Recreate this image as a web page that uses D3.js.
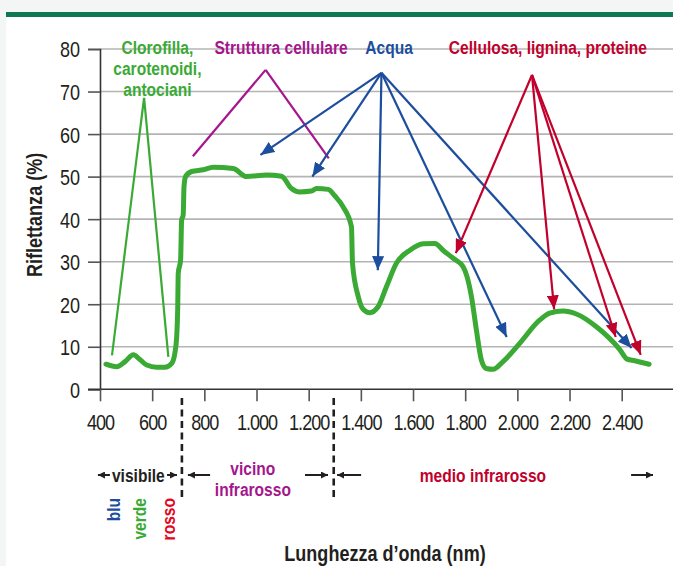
<!DOCTYPE html>
<html>
<head>
    <meta charset="utf-8">
    <title>Riflettanza della vegetazione</title>
    <script src="https://cdn.jsdelivr.net/npm/d3@7"></script>
    <style>
        body {
            margin: 0;
            background: #f4f6f6;
        }

        svg text {
            font-family: "Liberation Sans", Arial, sans-serif;
            fill: #231f20;
        }
    </style>
</head>
<body>
    <div id="chart"></div>
    <script>
        // spectral reflectance curve (nm, %)
        const wavelengths = [423, 464, 496, 528, 553, 579, 617, 649, 675, 687, 694, 698, 700, 709, 713, 719, 722, 728, 751, 796, 834, 911, 962, 1039, 1096, 1134, 1166, 1211, 1230, 1275, 1300, 1332, 1364, 1368, 1390, 1409, 1434, 1466, 1498, 1536, 1588, 1639, 1684, 1715, 1754, 1792, 1807, 1824, 1843, 1862, 1881, 1907, 1945, 2009, 2086, 2124, 2175, 2226, 2303, 2392, 2421, 2450, 2505];
        const reflectance = [5.9, 5.3, 6.5, 8.1, 7.0, 5.7, 5.2, 5.2, 6.1, 8.5, 12.4, 19.4, 27.3, 30.4, 39.8, 41.0, 47.6, 50.0, 51.2, 51.6, 52.2, 51.9, 50.0, 50.4, 50.1, 47.2, 46.4, 46.6, 47.2, 47.0, 45.5, 42.9, 38.2, 29.6, 21.8, 18.8, 18.0, 19.4, 24.1, 29.6, 32.7, 34.2, 34.3, 32.7, 30.8, 28.8, 26.5, 21.8, 13.9, 6.9, 4.9, 4.7, 6.5, 10.8, 16.3, 17.9, 18.4, 17.7, 14.7, 9.4, 7.1, 6.7, 5.9];

        const xTicks = [400, 600, 800, 1000, 1200, 1400, 1600, 1800, 2000, 2200, 2400];
        const yTicks = [0, 10, 20, 30, 40, 50, 60, 70, 80];

        // annotation labels and leader lines, points in (nm, %)
        const noteLines = [["Clorofilla,", "carotenoidi,", "antociani"], ["Struttura cellulare"], ["Acqua"], ["Cellulosa, lignina, proteine"]];
        const noteNm = [620, 1094, 1508, 2117];
        const noteColors = ["#3aaa35", "#a5168c", "#1c4e9d", "#c1002c"];
        const greenApex = [569, 68.5];
        const greenEnds = [[446, 8.0], [662, 7.6]];
        const purpleApex = [1035, 75.1];
        const purpleEnds = [[756, 54.8], [1277, 54.3]];
        const waterApex = [1479, 74.4];
        const waterTips = [[1015, 55.1], [1214, 50.0], [1465, 28.0], [1959, 12.3], [2438, 9.7]];
        const celluloseApex = [2056, 73.9];
        const celluloseTips = [[1764, 32.0], [2141, 18.8], [2377, 12.3], [2473, 8.1]];

        // spectral regions under the axis
        const boundaries = [714, 1296];
        const regionNames = [["visibile"], ["vicino", "infrarosso"], ["medio infrarosso"]];
        const regionColors = ["#231f20", "#a5168c", "#c1002c"];
        const regionCenters = [547, 986, 1868];
        const regionArrows = [[438, 392], [657, 695], [822, 737], [1186, 1274], [1401, 1309], [2436, 2520]];
        const bandNames = ["blu", "verde", "rosso"];
        const bandColors = ["#1c4e9d", "#3aaa35", "#e3061c"];
        const bandNm = [450, 550, 661];

        const width = 673;
        const height = 566;
        const narrow = 0.82;

        const svg = d3.select("#chart")
            .append("svg")
            .attr("width", width)
            .attr("height", height);

        svg.append("rect")
            .attr("x", 6).attr("y", 12)
            .attr("width", width - 6).attr("height", height - 12)
            .attr("fill", "#ffffff");
        svg.append("rect")
            .attr("x", 6).attr("y", 12)
            .attr("width", width - 6).attr("height", 5)
            .attr("fill", "#0f7756");

        const x = d3.scaleLinear().domain([400, 2400]).range([100, 621.7]);
        const y = d3.scaleLinear().domain([0, 80]).range([389.3, 49]);

        const it = d3.formatLocale({ decimal: ",", thousands: ".", grouping: [3], currency: ["€", ""] });
        const fmt = it.format(",d");

        // condensed looking text: squeeze along the text direction
        function label(px, py, str, size, color, bold, anchor, rot) {
            return svg.append("text")
                .attr("transform", `translate(${px},${py})` + (rot ? ` rotate(${rot})` : "") + ` scale(${narrow},1)`)
                .attr("text-anchor", anchor || "middle")
                .attr("font-size", size)
                .attr("font-weight", bold ? "bold" : "normal")
                .style("fill", color || "#231f20")
                .text(str);
        }

        // grid
        svg.append("g")
            .selectAll("line")
            .data(yTicks.slice(1))
            .join("line")
            .attr("x1", x(400)).attr("x2", width)
            .attr("y1", d => y(d)).attr("y2", d => y(d))
            .attr("stroke", "#b4b4b4")
            .attr("stroke-width", 1.6);

        // y axis
        const yAxis = svg.append("g")
            .attr("transform", `translate(${x(400)},0)`)
            .call(d3.axisLeft(y).tickValues(yTicks).tickSize(12).tickPadding(8));
        yAxis.select(".domain").attr("stroke", "#333").attr("stroke-width", 1.6);
        yAxis.selectAll(".tick line").attr("stroke", "#555").attr("stroke-width", 1.6);
        yAxis.selectAll(".tick text")
            .attr("font-size", 22)
            .attr("font-family", "Liberation Sans, Arial, sans-serif")
            .attr("fill", "#231f20")
            .attr("x", -20 / narrow)
            .attr("transform", `scale(${narrow},1)`)
            .attr("dy", "0.36em");

        // x axis
        svg.append("line")
            .attr("x1", 88).attr("x2", width)
            .attr("y1", y(0)).attr("y2", y(0))
            .attr("stroke", "#333").attr("stroke-width", 1.6);
        const xAxis = svg.append("g")
            .attr("transform", `translate(0,${y(0)})`)
            .call(d3.axisBottom(x).tickValues(xTicks).tickSize(12).tickPadding(8).tickFormat(fmt));
        xAxis.select(".domain").remove();
        xAxis.selectAll(".tick line").attr("stroke", "#555").attr("stroke-width", 1.6);
        xAxis.selectAll(".tick text")
            .attr("font-size", 22)
            .attr("font-family", "Liberation Sans, Arial, sans-serif")
            .attr("fill", "#231f20")
            .attr("letter-spacing", -1.2)
            .attr("transform", `scale(${narrow},1)`)
            .attr("dy", "0.95em");

        // axis titles
        label(42, y(41), "Riflettanza (%)", 22, null, true, "middle", -90);
        label(385, 561, "Lunghezza d\u2019onda (nm)", 22, null, true);

        // markers
        const defs = svg.append("defs");
        function marker(id, color, len, wid) {
            defs.append("marker")
                .attr("id", id)
                .attr("markerUnits", "userSpaceOnUse")
                .attr("viewBox", `0 0 ${len} ${wid}`)
                .attr("markerWidth", len).attr("markerHeight", wid)
                .attr("refX", len).attr("refY", wid / 2)
                .attr("orient", "auto")
                .append("path")
                .attr("d", `M0,0L${len},${wid / 2}L0,${wid}Z`)
                .attr("fill", color);
        }
        marker("arBlue", "#1c4e9d", 14, 12);
        marker("arRed", "#c1002c", 14, 12);
        marker("arBlack", "#231f20", 7, 7);

        // reflectance curve
        const curve = d3.line()
            .x(d => x(d[0]))
            .y(d => y(d[1]))
            .curve(d3.curveMonotoneX);
        svg.append("path")
            .datum(wavelengths.map((w, i) => [w, reflectance[i]]))
            .attr("d", curve)
            .attr("fill", "none")
            .attr("stroke", "#3aaa35")
            .attr("stroke-width", 5)
            .attr("stroke-linejoin", "round")
            .attr("stroke-linecap", "round");

        // leader lines
        function leaders(apex, ends, color, markerId) {
            svg.append("g")
                .selectAll("line")
                .data(ends)
                .join("line")
                .attr("x1", x(apex[0])).attr("y1", y(apex[1]))
                .attr("x2", d => x(d[0])).attr("y2", d => y(d[1]))
                .attr("stroke", color)
                .attr("stroke-width", 2.2)
                .attr("marker-end", markerId ? `url(#${markerId})` : null);
        }
        leaders(greenApex, greenEnds, "#3aaa35");
        leaders(purpleApex, purpleEnds, "#a5168c");
        leaders(waterApex, waterTips, "#1c4e9d", "arBlue");
        leaders(celluloseApex, celluloseTips, "#c1002c", "arRed");

        // annotation labels
        noteLines.forEach((lines, i) => {
            lines.forEach((l, j) => {
                label(x(noteNm[i]), 54 + j * 21, l, 19, noteColors[i], true);
            });
        });

        // region boundaries
        svg.append("g")
            .selectAll("line")
            .data(boundaries)
            .join("line")
            .attr("x1", d => x(d)).attr("x2", d => x(d))
            .attr("y1", 398).attr("y2", 500)
            .attr("stroke", "#231f20")
            .attr("stroke-width", 2.6)
            .attr("stroke-dasharray", "7,4.5");

        // region names
        regionNames.forEach((lines, i) => {
            const y0 = lines.length > 1 ? 475 : 482;
            lines.forEach((l, j) => {
                label(x(regionCenters[i]), y0 + j * 21, l, 19, regionColors[i], true);
            });
        });
        svg.append("g")
            .selectAll("line")
            .data(regionArrows)
            .join("line")
            .attr("x1", d => x(d[0])).attr("x2", d => x(d[1]))
            .attr("y1", 475).attr("y2", 475)
            .attr("stroke", "#231f20")
            .attr("stroke-width", 2)
            .attr("marker-end", "url(#arBlack)");

        // colour bands
        bandNames.forEach((b, i) => {
            label(x(bandNm[i]) + 7, 498, b, 19, bandColors[i], true, "end", -90);
        });
    </script>
</body>
</html>
